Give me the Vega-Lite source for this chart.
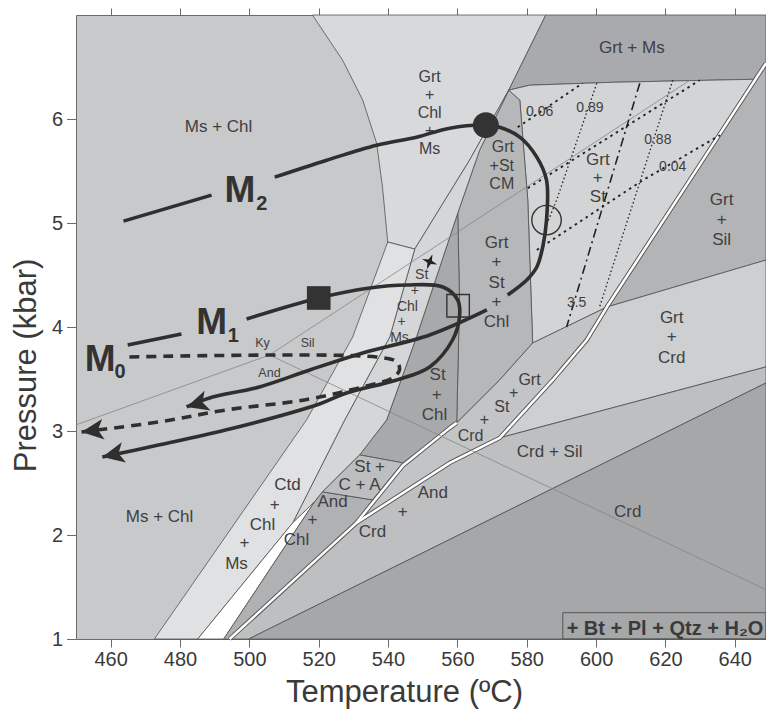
{
"$schema":"https://vega.github.io/schema/vega-lite/v6.json",
"width":690,"height":624,
"autosize":{"type":"none"},
"padding":{"left":76,"top":15,"right":0,"bottom":70},
"config":{
 "font":"Liberation Sans",
 "view":{"fill":"#c8c9cb","stroke":"#6a6a6a","strokeWidth":1},
 "axis":{"grid":false,"domain":false,"tickColor":"#6a6a6a","labelColor":"#3a3a3a","titleColor":"#3a3a3a","labelFont":"Liberation Sans","titleFont":"Liberation Sans","labelFontSize":20,"titleFontSize":31,"titleFontWeight":"normal","labelFlush":false,"labelOverlap":false}
},
"datasets":{
"regions":[
{"r":"GCM","i":0,"T":518.2,"P":7.0},{"r":"GCM","i":1,"T":526.9,"P":6.565},{"r":"GCM","i":2,"T":532.7,"P":6.181},{"r":"GCM","i":3,"T":536.7,"P":5.768},{"r":"GCM","i":4,"T":538.4,"P":5.345},{"r":"GCM","i":5,"T":539.9,"P":4.817},{"r":"GCM","i":6,"T":547.7,"P":4.749},{"r":"GCM","i":7,"T":563.5,"P":5.604},{"r":"GCM","i":8,"T":574.8,"P":6.277},{"r":"GCM","i":9,"T":585.5,"P":7.0},{"r":"GCM","i":10,"T":518.2,"P":7.0},
{"r":"GMs","i":0,"T":585.5,"P":7.0},{"r":"GMs","i":1,"T":649,"P":7.0},{"r":"GMs","i":2,"T":649,"P":6.536},{"r":"GMs","i":3,"T":645.5,"P":6.382},{"r":"GMs","i":4,"T":604.8,"P":6.353},{"r":"GMs","i":5,"T":580.8,"P":6.325},{"r":"GMs","i":6,"T":574.8,"P":6.277},{"r":"GMs","i":7,"T":585.5,"P":7.0},
{"r":"GSt","i":0,"T":574.8,"P":6.277},{"r":"GSt","i":1,"T":580.8,"P":6.325},{"r":"GSt","i":2,"T":604.8,"P":6.353},{"r":"GSt","i":3,"T":645.5,"P":6.382},{"r":"GSt","i":4,"T":627.0,"P":5.412},{"r":"GSt","i":5,"T":603.1,"P":4.192},{"r":"GSt","i":6,"T":581.7,"P":3.846},{"r":"GSt","i":7,"T":580.3,"P":5.22},{"r":"GSt","i":8,"T":578.0,"P":6.181},{"r":"GSt","i":9,"T":574.8,"P":6.277},
{"r":"GSil","i":0,"T":649,"P":6.536},{"r":"GSil","i":1,"T":649,"P":4.644},{"r":"GSil","i":2,"T":603.1,"P":4.192},{"r":"GSil","i":3,"T":627.0,"P":5.412},{"r":"GSil","i":4,"T":649,"P":6.536},
{"r":"GCrd","i":0,"T":603.1,"P":4.192},{"r":"GCrd","i":1,"T":649,"P":4.644},{"r":"GCrd","i":2,"T":649,"P":3.616},{"r":"GCrd","i":3,"T":572.2,"P":2.934},{"r":"GCrd","i":4,"T":587.5,"P":3.491},{"r":"GCrd","i":5,"T":597.3,"P":3.875},{"r":"GCrd","i":6,"T":603.1,"P":4.192},
{"r":"CrdSil","i":0,"T":572.2,"P":2.934},{"r":"CrdSil","i":1,"T":649,"P":3.616},{"r":"CrdSil","i":2,"T":649,"P":3.462},{"r":"CrdSil","i":3,"T":499.8,"P":1.0},{"r":"CrdSil","i":4,"T":494.3,"P":1.0},{"r":"CrdSil","i":5,"T":530.9,"P":2.117},{"r":"CrdSil","i":6,"T":557.8,"P":2.694},{"r":"CrdSil","i":7,"T":572.2,"P":2.934},
{"r":"Crd","i":0,"T":649,"P":3.462},{"r":"Crd","i":1,"T":649,"P":1.0},{"r":"Crd","i":2,"T":499.8,"P":1.0},{"r":"Crd","i":3,"T":649,"P":3.462},
{"r":"CM","i":0,"T":574.8,"P":6.277},{"r":"CM","i":1,"T":578.0,"P":6.181},{"r":"CM","i":2,"T":580.3,"P":5.22},{"r":"CM","i":3,"T":581.7,"P":3.846},{"r":"CM","i":4,"T":572.2,"P":3.491},{"r":"CM","i":5,"T":559.8,"P":3.078},{"r":"CM","i":6,"T":560.6,"P":4.259},{"r":"CM","i":7,"T":560.1,"P":5.095},{"r":"CM","i":8,"T":566.4,"P":5.7},{"r":"CM","i":9,"T":574.8,"P":6.277},
{"r":"StChl","i":0,"T":560.1,"P":5.095},{"r":"StChl","i":1,"T":560.6,"P":4.259},{"r":"StChl","i":2,"T":559.8,"P":3.078},{"r":"StChl","i":3,"T":544.2,"P":2.694},{"r":"StChl","i":4,"T":531.8,"P":2.77},{"r":"StChl","i":5,"T":539.6,"P":3.107},{"r":"StChl","i":6,"T":548.2,"P":3.904},{"r":"StChl","i":7,"T":560.1,"P":5.095},
{"r":"SCM","i":0,"T":574.8,"P":6.277},{"r":"SCM","i":1,"T":563.5,"P":5.604},{"r":"SCM","i":2,"T":547.7,"P":4.749},{"r":"SCM","i":3,"T":540.5,"P":3.904},{"r":"SCM","i":4,"T":527.5,"P":3.107},{"r":"SCM","i":5,"T":512.5,"P":2.117},{"r":"SCM","i":6,"T":518.8,"P":2.319},{"r":"SCM","i":7,"T":521.1,"P":2.415},{"r":"SCM","i":8,"T":531.8,"P":2.77},{"r":"SCM","i":9,"T":539.6,"P":3.107},{"r":"SCM","i":10,"T":548.2,"P":3.904},{"r":"SCM","i":11,"T":560.1,"P":5.095},{"r":"SCM","i":12,"T":566.4,"P":5.7},{"r":"SCM","i":13,"T":574.8,"P":6.277},
{"r":"Ctd","i":0,"T":539.9,"P":4.817},{"r":"Ctd","i":1,"T":547.7,"P":4.749},{"r":"Ctd","i":2,"T":540.5,"P":3.904},{"r":"Ctd","i":3,"T":527.5,"P":3.107},{"r":"Ctd","i":4,"T":512.5,"P":2.117},{"r":"Ctd","i":5,"T":485.1,"P":1.0},{"r":"Ctd","i":6,"T":472.6,"P":1.0},{"r":"Ctd","i":7,"T":516.5,"P":3.107},{"r":"Ctd","i":8,"T":529.8,"P":3.904},{"r":"Ctd","i":9,"T":539.9,"P":4.817},
{"r":"Wht","i":0,"T":512.5,"P":2.117},{"r":"Wht","i":1,"T":485.1,"P":1.0},{"r":"Wht","i":2,"T":492.6,"P":1.0},{"r":"Wht","i":3,"T":518.8,"P":2.319},{"r":"Wht","i":4,"T":512.5,"P":2.117},
{"r":"AndChl","i":0,"T":518.8,"P":2.319},{"r":"AndChl","i":1,"T":521.1,"P":2.415},{"r":"AndChl","i":2,"T":535.5,"P":2.338},{"r":"AndChl","i":3,"T":530.9,"P":2.117},{"r":"AndChl","i":4,"T":494.3,"P":1.0},{"r":"AndChl","i":5,"T":492.6,"P":1.0},{"r":"AndChl","i":6,"T":518.8,"P":2.319},
{"r":"StCA","i":0,"T":521.1,"P":2.415},{"r":"StCA","i":1,"T":531.8,"P":2.77},{"r":"StCA","i":2,"T":544.2,"P":2.694},{"r":"StCA","i":3,"T":535.5,"P":2.338},{"r":"StCA","i":4,"T":521.1,"P":2.415},
{"r":"GStCrd","i":0,"T":581.7,"P":3.846},{"r":"GStCrd","i":1,"T":603.1,"P":4.192},{"r":"GStCrd","i":2,"T":597.3,"P":3.875},{"r":"GStCrd","i":3,"T":587.5,"P":3.491},{"r":"GStCrd","i":4,"T":572.2,"P":2.934},{"r":"GStCrd","i":5,"T":557.8,"P":2.694},{"r":"GStCrd","i":6,"T":530.9,"P":2.117},{"r":"GStCrd","i":7,"T":544.2,"P":2.665},{"r":"GStCrd","i":8,"T":557.8,"P":3.03},{"r":"GStCrd","i":9,"T":559.8,"P":3.078},{"r":"GStCrd","i":10,"T":572.2,"P":3.491},{"r":"GStCrd","i":11,"T":581.7,"P":3.846}
],
"white":[
{"w":"W1","i":0,"T":649,"P":6.536},{"w":"W1","i":1,"T":627.0,"P":5.412},{"w":"W1","i":2,"T":603.1,"P":4.192},{"w":"W1","i":3,"T":597.3,"P":3.875},{"w":"W1","i":4,"T":587.5,"P":3.491},{"w":"W1","i":5,"T":572.2,"P":2.934},{"w":"W1","i":6,"T":557.8,"P":2.694},{"w":"W1","i":7,"T":530.9,"P":2.117},{"w":"W1","i":8,"T":494.3,"P":1.0},
{"w":"Wa","i":0,"T":559.8,"P":3.078},{"w":"Wa","i":1,"T":557.8,"P":3.03},{"w":"Wa","i":2,"T":544.2,"P":2.665},{"w":"Wa","i":3,"T":530.9,"P":2.117}
],
"alsi":[
{"l":"KyAnd","i":0,"T":450,"P":3.059},{"l":"KyAnd","i":1,"T":505.8,"P":3.731},
{"l":"KySil","i":0,"T":505.8,"P":3.731},{"l":"KySil","i":1,"T":627.0,"P":6.372},
{"l":"SilAnd","i":0,"T":505.8,"P":3.731},{"l":"SilAnd","i":1,"T":649,"P":1.474}
],
"isoUp":[
{"l":"a","i":0,"T":577.4,"P":5.921},{"l":"a","i":1,"T":596.1,"P":6.344},
{"l":"b","i":0,"T":580.3,"P":5.335},{"l":"b","i":1,"T":629.9,"P":6.373},
{"l":"c","i":0,"T":582.9,"P":4.74},{"l":"c","i":1,"T":613.5,"P":5.412},{"l":"c","i":2,"T":635.7,"P":5.844}
],
"isoSteep":[
{"l":"d","i":0,"T":600.2,"P":6.344},{"l":"d","i":1,"T":588.6,"P":5.22},{"l":"d","i":2,"T":585.7,"P":4.98},
{"l":"e","i":0,"T":622.1,"P":6.373},{"l":"e","i":1,"T":601.0,"P":4.192}
],
"isoDashDot":[
{"l":"f","i":0,"T":612.6,"P":6.344},{"l":"f","i":1,"T":591.5,"P":4.0}
],
"paths":[
{"s":"M2a","i":0,"T":463.7,"P":5.018},{"s":"M2a","i":1,"T":489.1,"P":5.268},
{"s":"M2b","i":0,"T":507.3,"P":5.441},{"s":"M2b","i":1,"T":522.3,"P":5.604},{"s":"M2b","i":2,"T":536.7,"P":5.748},{"s":"M2b","i":3,"T":548.2,"P":5.825},{"s":"M2b","i":4,"T":557.8,"P":5.912},{"s":"M2b","i":5,"T":568.2,"P":5.941},{"s":"M2b","i":6,"T":572.2,"P":5.921},{"s":"M2b","i":7,"T":578.0,"P":5.825},{"s":"M2b","i":8,"T":582.9,"P":5.633},{"s":"M2b","i":9,"T":585.7,"P":5.412},{"s":"M2b","i":10,"T":585.7,"P":5.028},{"s":"M2b","i":11,"T":584.6,"P":4.769},{"s":"M2b","i":12,"T":582.9,"P":4.577},{"s":"M2b","i":13,"T":580.0,"P":4.452},{"s":"M2b","i":14,"T":574.5,"P":4.308},
{"s":"M2c","i":0,"T":568.5,"P":4.164},{"s":"M2c","i":1,"T":552.0,"P":3.923},{"s":"M2c","i":2,"T":532.7,"P":3.75},{"s":"M2c","i":3,"T":517.4,"P":3.587},{"s":"M2c","i":4,"T":502.9,"P":3.424},{"s":"M2c","i":5,"T":488.5,"P":3.318},{"s":"M2c","i":6,"T":481.9,"P":3.231},
{"s":"M1a","i":0,"T":464.9,"P":3.827},{"s":"M1a","i":1,"T":480.4,"P":3.933},
{"s":"M1b","i":0,"T":499.2,"P":4.077},{"s":"M1b","i":1,"T":520.0,"P":4.279},{"s":"M1b","i":2,"T":534.7,"P":4.375},{"s":"M1b","i":3,"T":545.4,"P":4.404},{"s":"M1b","i":4,"T":555.8,"P":4.385},{"s":"M1b","i":5,"T":560.1,"P":4.259},{"s":"M1b","i":6,"T":560.6,"P":4.096},{"s":"M1b","i":7,"T":558.6,"P":3.875},{"s":"M1b","i":8,"T":552.0,"P":3.616},{"s":"M1b","i":9,"T":542.5,"P":3.491},{"s":"M1b","i":10,"T":528.0,"P":3.366},{"s":"M1b","i":11,"T":520.2,"P":3.26},{"s":"M1b","i":12,"T":493.4,"P":3.011},{"s":"M1b","i":13,"T":474.1,"P":2.867},{"s":"M1b","i":14,"T":457.6,"P":2.751}
],
"m0":[
{"s":"M0","i":0,"T":465.4,"P":3.712},{"s":"M0","i":1,"T":536.7,"P":3.712},{"s":"M0","i":2,"T":542.5,"P":3.664},{"s":"M0","i":3,"T":543.3,"P":3.587},{"s":"M0","i":4,"T":541.3,"P":3.511},{"s":"M0","i":5,"T":532.7,"P":3.424},{"s":"M0","i":6,"T":515.9,"P":3.299},{"s":"M0","i":7,"T":493.4,"P":3.203},{"s":"M0","i":8,"T":474.1,"P":3.088},{"s":"M0","i":9,"T":451.6,"P":2.991}
],
"arrows":[
{"a":"M2","T":481.9,"P":3.231},{"a":"M1","T":457.6,"P":2.751},{"a":"M0","T":451.6,"P":2.991}
],
"symbols":[
{"k":"square","T":520.0,"P":4.279},{"k":"dot","T":568.2,"P":5.941},{"k":"ocircle","T":585.7,"P":5.028},{"k":"osquare","T":560.2,"P":4.204},{"k":"star","T":552.0,"P":4.627}
],
"labels":[
{"t":"Ms + Chl","T":491.1,"P":5.921},
{"t":"Grt + Ms","T":610.3,"P":6.68},
{"t":"Grt","T":600.5,"P":5.604},{"t":"+","T":600.5,"P":5.431},{"t":"St","T":600.5,"P":5.249},
{"t":"Grt","T":636.2,"P":5.22},{"t":"+","T":636.2,"P":5.028},{"t":"Sil","T":636.2,"P":4.836},
{"t":"Grt","T":571.3,"P":4.807},{"t":"+","T":571.3,"P":4.624},{"t":"St","T":571.3,"P":4.423},{"t":"+","T":571.3,"P":4.24},{"t":"Chl","T":571.3,"P":4.048},
{"t":"Grt","T":621.8,"P":4.086},{"t":"+","T":621.8,"P":3.904},{"t":"Crd","T":621.8,"P":3.702},
{"t":"St","T":554.3,"P":3.539},{"t":"+","T":554.0,"P":3.347},{"t":"Chl","T":553.4,"P":3.154},
{"t":"Crd + Sil","T":586.6,"P":2.799},
{"t":"St +","T":534.7,"P":2.655},{"t":"C + A","T":531.8,"P":2.482},
{"t":"Ctd","T":511.0,"P":2.482},{"t":"+","T":507.3,"P":2.29},{"t":"Chl","T":503.8,"P":2.098},{"t":"+","T":498.6,"P":1.925},{"t":"Ms","T":496.3,"P":1.723},
{"t":"And","T":524.0,"P":2.316},{"t":"+","T":518.2,"P":2.143},{"t":"Chl","T":513.6,"P":1.952},
{"t":"And","T":552.9,"P":2.402},{"t":"+","T":544.2,"P":2.22},{"t":"Crd","T":535.5,"P":2.028},
{"t":"Ms + Chl","T":474.1,"P":2.175},
{"t":"Crd","T":609.1,"P":2.22}
],
"mid":[
{"t":"Grt","T":552.0,"P":6.40},{"t":"+","T":552.0,"P":6.228},{"t":"Chl","T":552.0,"P":6.056},{"t":"+","T":552.0,"P":5.884},{"t":"Ms","T":552.0,"P":5.712},
{"t":"Grt","T":573.1,"P":5.73},{"t":"+St","T":572.8,"P":5.545},{"t":"CM","T":572.8,"P":5.375},
{"t":"Grt","T":580.8,"P":3.495},{"t":"+","T":576.2,"P":3.37},{"t":"St","T":572.8,"P":3.23},{"t":"+","T":567.8,"P":3.11},{"t":"Crd","T":563.8,"P":2.95}
],
"band":[
{"t":"St","T":549.7,"P":4.5},{"t":"+","T":547.7,"P":4.346},{"t":"Chl","T":545.6,"P":4.192},{"t":"+","T":543.9,"P":4.048},{"t":"Ms","T":543.3,"P":3.894}
],
"small":[
{"t":"Ky","T":503.8,"P":3.846},{"t":"Sil","T":516.8,"P":3.846},{"t":"And","T":505.8,"P":3.558}
],
"nums":[
{"t":"0.06","T":583.7,"P":6.065},{"t":"0.89","T":598.2,"P":6.104},{"t":"0.88","T":617.8,"P":5.796},{"t":"0.04","T":622.1,"P":5.537},{"t":"3.5","T":594.4,"P":4.23}
],
"mlab":[
{"t":"M","T":492.8,"P":5.204},{"t":"M","T":484.7,"P":3.933},{"t":"M","T":452.5,"P":3.577}
],
"msub":[
{"t":"2","T":502.0,"P":5.124},{"t":"1","T":493.8,"P":3.859},{"t":"0","T":461.1,"P":3.507}
],
"box":[{"x1":590.4,"x2":649,"y1":1.0,"y2":1.253,"t":"+ Bt + Pl + Qtz + H₂O","T":591.5,"P":1.041}]
},
"layer":[
{"data":{"name":"regions"},
 "mark":{"type":"line","stroke":"#505050","strokeWidth":0.8,"strokeJoin":"round"},
 "encoding":{
  "x":{"field":"T","type":"quantitative","scale":{"domain":[450,649],"nice":false,"zero":false},
       "axis":{"orient":"bottom","values":[460,480,500,520,540,560,580,600,620,640],"tickSize":8,"labelPadding":2,"title":"Temperature (ºC)","titleX":328,"titleY":62,"titleBaseline":"alphabetic","titleAlign":"center"}},
  "y":{"field":"P","type":"quantitative","scale":{"domain":[1,7],"nice":false,"zero":false},
       "axis":{"orient":"left","values":[1,1.5,2,2.5,3,3.5,4,4.5,5,5.5,6,6.5],"format":"d","labelExpr":"datum.value % 1 === 0 ? datum.label : ''","tickSize":9.5,"labelPadding":4,"title":"Pressure (kbar)","titleX":-41,"titleY":350,"titleAngle":-90,"titleBaseline":"alphabetic","titleAlign":"center"}},
  "order":{"field":"i","type":"quantitative"},
  "fill":{"field":"r","type":"nominal","legend":null,
    "scale":{"domain":["GCM","GMs","GSt","GSil","GCrd","CrdSil","Crd","CM","StChl","SCM","Ctd","Wht","AndChl","StCA","GStCrd"],
             "range":["#d8d9db","#a9aaad","#d3d4d6","#b3b4b6","#cecfd1","#bebfc1","#a6a7a9","#b6b7b9","#a8a9ab","#d5d6d8","#e0e1e2","#ffffff","#b0b1b3","#bdbec0","#c3c4c6"]}}
 }},
{"data":{"name":"white"},
 "mark":{"type":"line","stroke":"#555555","strokeWidth":4.4,"strokeJoin":"round"},
 "encoding":{
  "x":{"field":"T","type":"quantitative","axis":{"orient":"top","values":[460,480,500,520,540,560,580,600,620,640],"labels":false,"tickSize":7,"title":null}},
  "y":{"field":"P","type":"quantitative","axis":null},
  "order":{"field":"i","type":"quantitative"},
  "detail":{"field":"w","type":"nominal"}
 }},
{"data":{"name":"white"},
 "mark":{"type":"line","stroke":"#ffffff","strokeWidth":2.5,"strokeJoin":"round"},
 "encoding":{
  "x":{"field":"T","type":"quantitative","axis":null},
  "y":{"field":"P","type":"quantitative","axis":null},
  "order":{"field":"i","type":"quantitative"},
  "detail":{"field":"w","type":"nominal"}
 }},
{"data":{"name":"alsi"},
 "mark":{"type":"line","stroke":"#858585","strokeWidth":0.8},
 "encoding":{
  "x":{"field":"T","type":"quantitative","axis":null},
  "y":{"field":"P","type":"quantitative","axis":null},
  "order":{"field":"i","type":"quantitative"},
  "detail":{"field":"l","type":"nominal"}
 }},
{"data":{"name":"isoUp"},
 "mark":{"type":"line","stroke":"#222222","strokeWidth":1.9,"strokeDash":[2.5,4]},
 "encoding":{
  "x":{"field":"T","type":"quantitative","axis":null},
  "y":{"field":"P","type":"quantitative","axis":null},
  "order":{"field":"i","type":"quantitative"},
  "detail":{"field":"l","type":"nominal"}
 }},
{"data":{"name":"isoSteep"},
 "mark":{"type":"line","stroke":"#222222","strokeWidth":1.3,"strokeDash":[1.5,2.5]},
 "encoding":{
  "x":{"field":"T","type":"quantitative","axis":null},
  "y":{"field":"P","type":"quantitative","axis":null},
  "order":{"field":"i","type":"quantitative"},
  "detail":{"field":"l","type":"nominal"}
 }},
{"data":{"name":"isoDashDot"},
 "mark":{"type":"line","stroke":"#222222","strokeWidth":1.6,"strokeDash":[9,4,2,4]},
 "encoding":{
  "x":{"field":"T","type":"quantitative","axis":null},
  "y":{"field":"P","type":"quantitative","axis":null},
  "order":{"field":"i","type":"quantitative"},
  "detail":{"field":"l","type":"nominal"}
 }},
{"data":{"name":"box"},
 "mark":{"type":"rect","fill":null,"fillOpacity":0,"stroke":"#555555","strokeWidth":1},
 "encoding":{
  "x":{"field":"x1","type":"quantitative","axis":null},"x2":{"field":"x2"},
  "y":{"field":"y1","type":"quantitative","axis":null},"y2":{"field":"y2"}
 }},
{"data":{"name":"box"},
 "mark":{"type":"text","font":"Liberation Sans","fontWeight":"bold","fontSize":20,"color":"#3a3a3a","align":"left","baseline":"alphabetic"},
 "encoding":{
  "x":{"field":"T","type":"quantitative","axis":null},
  "y":{"field":"P","type":"quantitative","axis":null},
  "text":{"field":"t"}
 }},
{"data":{"name":"labels"},
 "mark":{"type":"text","font":"Liberation Sans","fontSize":17,"color":"#404040","align":"center","baseline":"middle"},
 "encoding":{
  "x":{"field":"T","type":"quantitative","axis":null},
  "y":{"field":"P","type":"quantitative","axis":null},
  "text":{"field":"t"}
 }},
{"data":{"name":"mid"},
 "mark":{"type":"text","font":"Liberation Sans","fontSize":16,"color":"#404040","align":"center","baseline":"middle"},
 "encoding":{
  "x":{"field":"T","type":"quantitative","axis":null},
  "y":{"field":"P","type":"quantitative","axis":null},
  "text":{"field":"t"}
 }},
{"data":{"name":"band"},
 "mark":{"type":"text","font":"Liberation Sans","fontSize":14,"color":"#404040","align":"center","baseline":"middle"},
 "encoding":{
  "x":{"field":"T","type":"quantitative","axis":null},
  "y":{"field":"P","type":"quantitative","axis":null},
  "text":{"field":"t"}
 }},
{"data":{"name":"small"},
 "mark":{"type":"text","font":"Liberation Sans","fontSize":12.5,"color":"#404040","align":"center","baseline":"middle"},
 "encoding":{
  "x":{"field":"T","type":"quantitative","axis":null},
  "y":{"field":"P","type":"quantitative","axis":null},
  "text":{"field":"t"}
 }},
{"data":{"name":"nums"},
 "mark":{"type":"text","font":"Liberation Sans","fontSize":14,"color":"#404040","align":"center","baseline":"middle"},
 "encoding":{
  "x":{"field":"T","type":"quantitative","axis":null},
  "y":{"field":"P","type":"quantitative","axis":null},
  "text":{"field":"t"}
 }},
{"data":{"name":"paths"},
 "mark":{"type":"line","stroke":"#2f2f2f","strokeWidth":3.6,"interpolate":"catmull-rom","strokeCap":"butt"},
 "encoding":{
  "x":{"field":"T","type":"quantitative","axis":null},
  "y":{"field":"P","type":"quantitative","axis":null},
  "order":{"field":"i","type":"quantitative"},
  "detail":{"field":"s","type":"nominal"}
 }},
{"data":{"name":"m0"},
 "mark":{"type":"line","stroke":"#2f2f2f","strokeWidth":3.6,"interpolate":"catmull-rom","strokeDash":[10,7],"strokeCap":"butt"},
 "encoding":{
  "x":{"field":"T","type":"quantitative","axis":null},
  "y":{"field":"P","type":"quantitative","axis":null},
  "order":{"field":"i","type":"quantitative"}
 }},
{"data":{"name":"arrows"},"transform":[{"filter":"datum.a == 'M2'"}],
 "mark":{"type":"point","shape":"M0,0L1.6,-0.75L1.2,0L1.6,0.75Z","size":756,"filled":true,"color":"#2f2f2f","opacity":1,"angle":343},
 "encoding":{"x":{"field":"T","type":"quantitative","axis":null},"y":{"field":"P","type":"quantitative","axis":null}}},
{"data":{"name":"arrows"},"transform":[{"filter":"datum.a == 'M1'"}],
 "mark":{"type":"point","shape":"M0,0L1.6,-0.75L1.2,0L1.6,0.75Z","size":756,"filled":true,"color":"#2f2f2f","opacity":1,"angle":348},
 "encoding":{"x":{"field":"T","type":"quantitative","axis":null},"y":{"field":"P","type":"quantitative","axis":null}}},
{"data":{"name":"arrows"},"transform":[{"filter":"datum.a == 'M0'"}],
 "mark":{"type":"point","shape":"M0,0L1.6,-0.75L1.2,0L1.6,0.75Z","size":756,"filled":true,"color":"#2f2f2f","opacity":1,"angle":353},
 "encoding":{"x":{"field":"T","type":"quantitative","axis":null},"y":{"field":"P","type":"quantitative","axis":null}}},
{"data":{"name":"symbols"},"transform":[{"filter":"datum.k == 'square'"}],
 "mark":{"type":"point","shape":"square","size":560,"filled":true,"color":"#333333","opacity":1},
 "encoding":{"x":{"field":"T","type":"quantitative","axis":null},"y":{"field":"P","type":"quantitative","axis":null}}},
{"data":{"name":"symbols"},"transform":[{"filter":"datum.k == 'dot'"}],
 "mark":{"type":"point","shape":"circle","size":676,"filled":true,"color":"#333333","opacity":1},
 "encoding":{"x":{"field":"T","type":"quantitative","axis":null},"y":{"field":"P","type":"quantitative","axis":null}}},
{"data":{"name":"symbols"},"transform":[{"filter":"datum.k == 'ocircle'"}],
 "mark":{"type":"point","shape":"circle","size":870,"filled":false,"stroke":"#333333","strokeWidth":1.4,"opacity":1},
 "encoding":{"x":{"field":"T","type":"quantitative","axis":null},"y":{"field":"P","type":"quantitative","axis":null}}},
{"data":{"name":"symbols"},"transform":[{"filter":"datum.k == 'osquare'"}],
 "mark":{"type":"point","shape":"square","size":506,"filled":false,"stroke":"#333333","strokeWidth":1.4,"opacity":1},
 "encoding":{"x":{"field":"T","type":"quantitative","axis":null},"y":{"field":"P","type":"quantitative","axis":null}}},
{"data":{"name":"symbols"},"transform":[{"filter":"datum.k == 'star'"}],
 "mark":{"type":"point","shape":"M0,-1L0.22,-0.22L1,0L0.22,0.22L0,1L-0.22,0.22L-1,0L-0.22,-0.22Z","size":260,"filled":true,"color":"#222222","opacity":1,"angle":20},
 "encoding":{"x":{"field":"T","type":"quantitative","axis":null},"y":{"field":"P","type":"quantitative","axis":null}}},
{"data":{"name":"mlab"},
 "mark":{"type":"text","font":"Liberation Sans","fontWeight":"bold","fontSize":37,"color":"#333333","align":"left","baseline":"alphabetic"},
 "encoding":{"x":{"field":"T","type":"quantitative","axis":null},"y":{"field":"P","type":"quantitative","axis":null},"text":{"field":"t"}}},
{"data":{"name":"msub"},
 "mark":{"type":"text","font":"Liberation Sans","fontWeight":"bold","fontSize":20,"color":"#333333","align":"left","baseline":"alphabetic"},
 "encoding":{"x":{"field":"T","type":"quantitative","axis":null},"y":{"field":"P","type":"quantitative","axis":null},"text":{"field":"t"}}}
],
"resolve":{"axis":{"x":"independent","y":"independent"}}
}
